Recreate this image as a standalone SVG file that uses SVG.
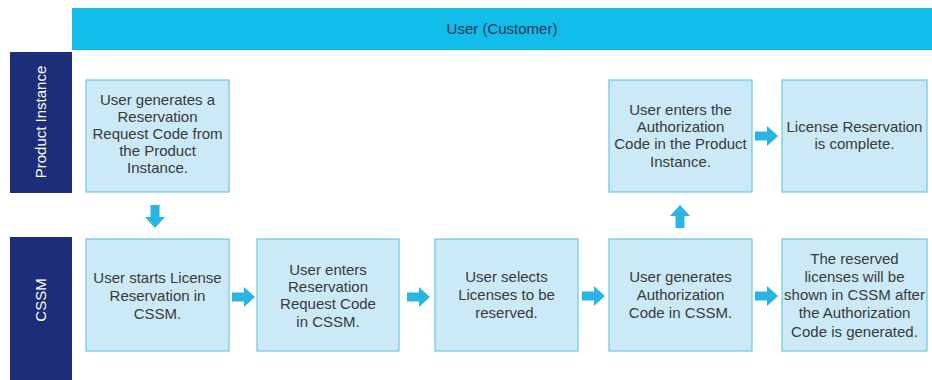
<svg xmlns="http://www.w3.org/2000/svg" xmlns:xlink="http://www.w3.org/1999/xlink" width="932" height="380" viewBox="0 0 932 380">
<style>
.box{fill:#cbe9f7;stroke:#6ec6e4;stroke-width:1.2}
.t{font-family:"Liberation Sans",Arial,sans-serif;font-size:15px;fill:#3a3a3a;text-anchor:middle}
.lane{fill:#1c2d7a}
.lt{font-family:"Liberation Sans",Arial,sans-serif;font-size:15px;fill:#ffffff;text-anchor:middle}
.arr{fill:#29b4e4}
</style>
<defs>
<path id="ra" d="M0,-4.5 H12 V-10 L23,0 L12,10 V4.5 H0 Z"/>
</defs>
<rect width="932" height="380" fill="#ffffff"/>
<g id="lane-user">
<rect x="72" y="8" width="860" height="42" fill="#13bde9"/>
<text class="t" x="502" y="34" style="fill:#1d3550">User (Customer)</text>
</g>
<g id="lane-product">
<rect class="lane" x="10" y="52" width="62" height="141"/>
<text class="lt" transform="translate(46,122) rotate(-90)">Product Instance</text>
</g>
<g id="lane-cssm">
<rect class="lane" x="10" y="237" width="62" height="143"/>
<text class="lt" transform="translate(46,300) rotate(-90)">CSSM</text>
</g>
<g id="n1">
<rect class="box" x="86" y="80" width="143" height="112"/>
<text class="t"><tspan x="157.5" y="105">User generates a</tspan><tspan x="157.5" y="122">Reservation</tspan><tspan x="157.5" y="139">Request Code from</tspan><tspan x="157.5" y="156">the Product</tspan><tspan x="157.5" y="173">Instance.</tspan></text>
</g>
<g id="n2">
<rect class="box" x="86" y="239" width="143" height="112"/>
<text class="t"><tspan x="157.5" y="283">User starts License</tspan><tspan x="157.5" y="301">Reservation in</tspan><tspan x="157.5" y="319">CSSM.</tspan></text>
</g>
<g id="n3">
<rect class="box" x="257" y="239" width="142" height="112"/>
<text class="t"><tspan x="328" y="275">User enters</tspan><tspan x="328" y="292">Reservation</tspan><tspan x="328" y="309">Request Code</tspan><tspan x="328" y="327">in CSSM.</tspan></text>
</g>
<g id="n4">
<rect class="box" x="435" y="239" width="143" height="112"/>
<text class="t"><tspan x="506.5" y="282">User selects</tspan><tspan x="506.5" y="300">Licenses to be</tspan><tspan x="506.5" y="318">reserved.</tspan></text>
</g>
<g id="n5">
<rect class="box" x="609" y="239" width="143" height="112"/>
<text class="t"><tspan x="680.5" y="282">User generates</tspan><tspan x="680.5" y="300">Authorization</tspan><tspan x="680.5" y="318">Code in CSSM.</tspan></text>
</g>
<g id="n6">
<rect class="box" x="782" y="239" width="145" height="112"/>
<text class="t"><tspan x="854.5" y="264">The reserved</tspan><tspan x="854.5" y="282">licenses will be</tspan><tspan x="854.5" y="300">shown in CSSM after</tspan><tspan x="854.5" y="318">the Authorization</tspan><tspan x="854.5" y="337">Code is generated.</tspan></text>
</g>
<g id="n7">
<rect class="box" x="609" y="80" width="143" height="112"/>
<text class="t"><tspan x="680.5" y="115">User enters the</tspan><tspan x="680.5" y="132">Authorization</tspan><tspan x="680.5" y="149">Code in the Product</tspan><tspan x="680.5" y="167">Instance.</tspan></text>
</g>
<g id="n8">
<rect class="box" x="782" y="80" width="145" height="112"/>
<text class="t"><tspan x="854.5" y="132">License Reservation</tspan><tspan x="854.5" y="149">is complete.</tspan></text>
</g>
<g id="connectors" class="arr">
<use xlink:href="#ra" transform="translate(155,205) rotate(90)"/>
<use xlink:href="#ra" transform="translate(232,297)"/>
<use xlink:href="#ra" transform="translate(407,297)"/>
<use xlink:href="#ra" transform="translate(582,296)"/>
<use xlink:href="#ra" transform="translate(755,296)"/>
<use xlink:href="#ra" transform="translate(680,228) rotate(-90)"/>
<use xlink:href="#ra" transform="translate(755,136)"/>
</g>
</svg>
